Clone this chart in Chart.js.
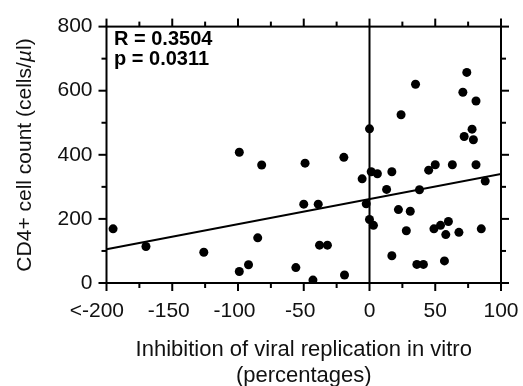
<!DOCTYPE html>
<html>
<head>
<meta charset="utf-8">
<script src="https://cdn.jsdelivr.net/npm/chart.js@4.4.0/dist/chart.umd.min.js"></script>
<style>
  body { margin: 0; background: #fff; }
  #wrap { width: 523px; height: 386px; }
</style>
</head>
<body>
<div id="wrap"><canvas id="chart" width="523" height="386"></canvas></div>
<script>
// data
const ptX = [74, 35, 71, 81, 24, 0, 78, 72, 79, -49, -19.5, -5.6, 1.3, 6, 17, 45, 50, 63, 81, 88,
  13, 38, -50, -39, -2.5, 22, 31, 0, 3, 28, 49, 54, 60, 58, 68, 85, -38, -32, 17, 36, 41, 57,
  -56, -43, -19, -99, -82, -195, -170, -126, -85, -92, -99];
const ptY = [657, 620, 595, 568, 525, 481, 480, 457, 447, 374, 392, 325, 347, 341, 347, 352, 369, 369, 369, 318,
  292, 291, 246, 246, 247, 229, 224, 198, 180, 163, 169, 180, 192, 151, 158, 169, 118, 118, 85, 58, 58, 69,
  48, 9, 25, 408, 368, 169, 114, 96, 141, 57, 36];

// regression line and the zero line
const fitX = [-200, 100];
const fitY = [105, 340];
const zeroX = [0, 0];
const zeroY = [0, 800];

const xTickVals = [-200, -150, -100, -50, 0, 50, 100];
const xTickLabels = ['<-200', '-150', '-100', '-50', '0', '50', '100'];
const xMinorVals = [-175, -125, -75, -25, 25, 75];
const yTickVals = [0, 200, 400, 600, 800];
const yTickLabels = ['0', '200', '400', '600', '800'];
const yMinorVals = [100, 300, 500, 700];

const statLines = ['R = 0.3504', 'p = 0.0311'];
const xTitle = ['Inhibition of viral replication in vitro', '(percentages)'];

const FONT = '"Liberation Sans", Arial, Helvetica, sans-serif';

const toXY = (xs, ys) => xs.map((x, i) => ({ x: x, y: ys[i] }));

const axesPlugin = {
  id: 'axesPlugin',
  afterDraw(chart) {
    const ctx = chart.ctx;
    const a = chart.chartArea;
    const xs = chart.scales.x;
    const ys = chart.scales.y;
    ctx.save();
    ctx.strokeStyle = '#000';
    ctx.lineWidth = 2;
    ctx.strokeRect(a.left, a.top, a.right - a.left, a.bottom - a.top);

    const tick = (x1, y1, x2, y2) => {
      ctx.beginPath();
      ctx.moveTo(x1, y1);
      ctx.lineTo(x2, y2);
      ctx.stroke();
    };
    const drawX = (vals, len) => vals.forEach(v => {
      const px = xs.getPixelForValue(v);
      tick(px, a.bottom, px, a.bottom + len);
      tick(px, a.top, px, a.top - len);
    });
    const drawY = (vals, len) => vals.forEach(v => {
      const py = ys.getPixelForValue(v);
      tick(a.left, py, a.left - len, py);
      tick(a.right, py, a.right + len, py);
    });
    drawX(xTickVals, 8);
    drawX(xMinorVals, 5);
    drawY(yTickVals, 8);
    drawY(yMinorVals, 5);

    // x tick labels: digits centred on the tick, sign hanging left
    ctx.fillStyle = '#111';
    ctx.font = '21px ' + FONT;
    ctx.textAlign = 'left';
    ctx.textBaseline = 'alphabetic';
    xTickVals.forEach((v, i) => {
      const lab = xTickLabels[i];
      const digits = lab.replace(/^[<-]+/, '');
      const prefix = lab.slice(0, lab.length - digits.length);
      const dw = ctx.measureText(digits).width;
      const pw = ctx.measureText(prefix).width;
      ctx.fillText(lab, xs.getPixelForValue(v) - dw / 2 - pw, 317);
    });

    // x title
    ctx.font = '22px ' + FONT;
    ctx.textAlign = 'center';
    const cx = (a.left + a.right) / 2;
    ctx.fillText(xTitle[0], cx, 356);
    ctx.fillText(xTitle[1], cx, 382);

    // y title (rotated) with italic mu
    const parts = [
      ['CD4+ cell count (cells/', '21px ' + FONT],
      ['\u00b5', 'italic 21px ' + FONT],
      ['l)', '21px ' + FONT]
    ];
    let total = 0;
    parts.forEach(p => { ctx.font = p[1]; total += ctx.measureText(p[0]).width; });
    ctx.translate(31, 155);
    ctx.rotate(-Math.PI / 2);
    ctx.textAlign = 'left';
    let pos = -total / 2;
    parts.forEach(p => {
      ctx.font = p[1];
      ctx.fillText(p[0], pos, 0);
      pos += ctx.measureText(p[0]).width;
    });
    ctx.setTransform(1, 0, 0, 1, 0, 0);

    // statistics
    ctx.font = 'bold 20px ' + FONT;
    ctx.textAlign = 'left';
    ctx.fillStyle = '#000';
    ctx.fillText(statLines[0], a.left + 7.5, 45);
    ctx.fillText(statLines[1], a.left + 7.5, 65);
    ctx.restore();
  }
};

new Chart(document.getElementById('chart'), {
  type: 'scatter',
  data: {
    datasets: [
      {
        label: 'patients',
        data: toXY(ptX, ptY),
        backgroundColor: '#000',
        borderWidth: 0,
        pointRadius: 4.5,
        pointHoverRadius: 4.5
      },
      {
        type: 'line',
        label: 'fit',
        data: toXY(fitX, fitY),
        borderColor: '#000',
        borderWidth: 2,
        pointRadius: 0,
        tension: 0,
        fill: false
      },
      {
        type: 'line',
        label: 'zero',
        data: toXY(zeroX, zeroY),
        borderColor: '#000',
        borderWidth: 2,
        pointRadius: 0,
        tension: 0,
        fill: false
      }
    ]
  },
  options: {
    responsive: false,
    devicePixelRatio: 1,
    animation: false,
    layout: { padding: { top: 20, right: 22, left: 0, bottom: 0 } },
    plugins: {
      legend: { display: false },
      tooltip: { enabled: false }
    },
    scales: {
      x: {
        type: 'linear',
        min: -200,
        max: 100,
        grid: { display: false, drawTicks: false },
        border: { display: false },
        ticks: { display: false, stepSize: 25 },
        afterFit: s => { s.height = 103; }
      },
      y: {
        type: 'linear',
        min: 0,
        max: 800,
        grid: { display: false, drawTicks: false },
        border: { display: false },
        ticks: {
          stepSize: 100,
          padding: 14,
          color: '#111',
          font: { family: FONT, size: 21 },
          callback: v => {
            const i = yTickVals.indexOf(v);
            return i >= 0 ? yTickLabels[i] : '';
          }
        },
        afterFit: s => { s.width = 106.5; }
      }
    }
  },
  plugins: [axesPlugin]
});
</script>
</body>
</html>
